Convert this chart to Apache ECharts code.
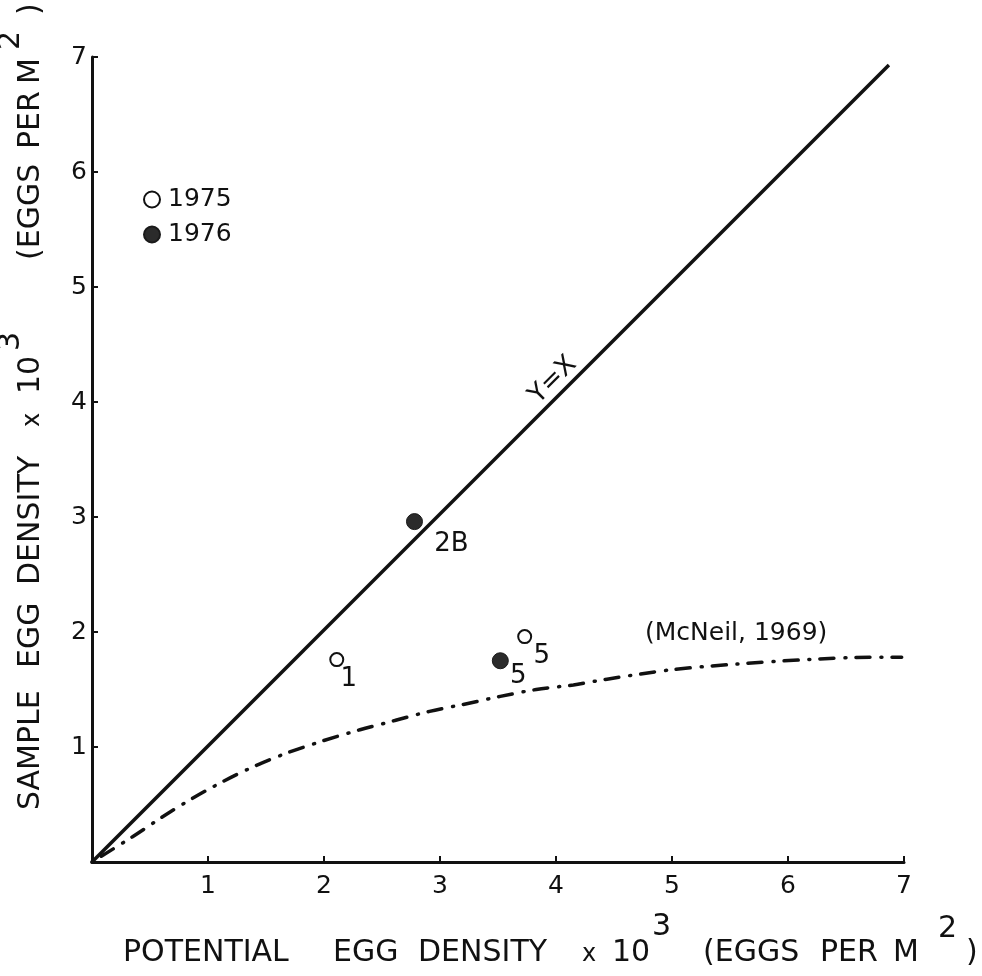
<!DOCTYPE html>
<html><head><meta charset="utf-8">
<script src="https://cdn.jsdelivr.net/npm/echarts@6/dist/echarts.min.js"></script>
<style>html,body{margin:0;padding:0;background:#fff}#c{width:982px;height:976px}</style>
</head><body><div id="c"></div>
<script>
// ---- data ----
const xTickValues = [0, 1, 2, 3, 4, 5, 6, 7];
const yTickValues = [0, 1, 2, 3, 4, 5, 6, 7];
const identityX = [0, 6.87];
const identityY = [0, 6.93];
const mcneilX = [0, 0.35, 0.68, 1.0, 1.33, 1.66, 1.98, 2.31, 2.61, 2.91, 3.2, 3.52, 3.83, 4.15, 4.44, 4.98, 5.54, 6.16, 6.71, 6.98];
const mcneilY = [0, 0.22, 0.44, 0.63, 0.80, 0.94, 1.05, 1.15, 1.23, 1.31, 1.37, 1.44, 1.50, 1.54, 1.59, 1.67, 1.72, 1.76, 1.78, 1.78];
const s1975X = [2.11, 3.73];
const s1975Y = [1.76, 1.96];
const s1975Labels = ['1', '5'];
const s1976X = [2.78, 3.52];
const s1976Y = [2.96, 1.75];
const s1976Labels = ['2B', '5'];
const seriesNames = ['1975', '1976'];
const lineLabel = 'Y=X';
const curveLabel = '(McNeil, 1969)';

// ---- styling (not data) ----
const FONT = 'DejaVu Sans';
const INK = '#111';
const off1975 = [[12, 20], [17, 20]];
const off1976 = [[37, 23], [18, 15]];

function pts(xs, ys) { return xs.map((x, i) => [x, ys[i]]); }

const chart = echarts.init(document.getElementById('c'), null, {renderer: 'canvas'});

const titleStyle = {fontFamily: FONT, fontSize: 30, fill: INK};
function t(text, x, y, size) {
  return {type: 'text', x: x, y: y,
    style: Object.assign({}, titleStyle, {text: text, verticalAlign: 'middle', align: 'left'}, size ? {fontSize: size} : {})};
}
// x-axis title pieces
const xTitleY = 953;
const xTitle = [
  t('POTENTIAL', 123, xTitleY), t('EGG', 333, xTitleY), t('DENSITY', 418, xTitleY),
  t('x', 582, xTitleY + 2, 24),
  t('10', 612, xTitleY), t('3', 652, xTitleY - 26),
  t('(EGGS', 703, xTitleY), t('PER', 820, xTitleY), t('M', 893, xTitleY),
  t('2', 938, xTitleY - 24), t(')', 966, xTitleY)
];
// y-axis title pieces (local coordinates along rotated baseline)
const yTitleChildren = [
  t('SAMPLE', 2, 0), t('EGG', 144, 0), t('DENSITY', 227, 0),
  t('x', 385, 2, 24),
  t('10', 418, 0), t('3', 461, -20),
  t('(EGGS', 552, 0), t('PER', 663, 0), t('M', 728, 0), t('2', 762, -20), t(')', 797, 0)
];

const option = {
  backgroundColor: '#fff',
  animation: false,
  grid: {left: 92, right: 78, top: 57, bottom: 114, containLabel: false},
  xAxis: {
    type: 'value', min: xTickValues[0], max: xTickValues[xTickValues.length - 1], interval: 1,
    axisLine: {show: true, onZero: false, lineStyle: {color: INK, width: 3}},
    axisTick: {show: true, inside: true, length: 6, lineStyle: {color: INK, width: 2}},
    axisLabel: {show: true, margin: 12, fontFamily: FONT, fontSize: 25, color: INK,
      formatter: v => (v === 0 ? '' : String(v))},
    splitLine: {show: false}
  },
  yAxis: {
    type: 'value', min: yTickValues[0], max: yTickValues[yTickValues.length - 1], interval: 1,
    axisLine: {show: true, onZero: false, lineStyle: {color: INK, width: 3}},
    axisTick: {show: true, inside: true, length: 6, lineStyle: {color: INK, width: 2}},
    axisLabel: {show: true, margin: 5, fontFamily: FONT, fontSize: 25, color: INK,
      formatter: v => (v === 0 ? '' : String(v))},
    splitLine: {show: false}
  },
  legend: {
    data: seriesNames, orient: 'vertical', left: 138, top: 182,
    itemWidth: 16, itemHeight: 16, itemGap: 10, icon: 'circle',
    textStyle: {fontFamily: FONT, fontSize: 25, color: INK, padding: [0, 0, 0, 3]}
  },
  series: [
    {
      name: 'identity', type: 'line', data: pts(identityX, identityY), symbol: 'none',
      lineStyle: {color: INK, width: 3.5}, silent: true, z: 2
    },
    {
      name: 'McNeil', type: 'line', data: pts(mcneilX, mcneilY), symbol: 'none', smooth: 0.3,
      lineStyle: {color: INK, width: 3.5, type: [1, 10, 14, 11], cap: 'round'}, silent: true, z: 2
    },
    {
      name: seriesNames[0], type: 'scatter', symbol: 'circle', symbolSize: 13,
      itemStyle: {color: '#fff', borderColor: INK, borderWidth: 2, opacity: 1},
      data: s1975X.map((x, i) => ({value: [x, s1975Y[i]], label: {formatter: s1975Labels[i], offset: off1975[i]}})),
      label: {show: true, position: 'inside', fontFamily: FONT, fontSize: 26, color: INK, align: 'center', verticalAlign: 'middle'},
      z: 5
    },
    {
      name: seriesNames[1], type: 'scatter', symbol: 'circle', symbolSize: 16,
      itemStyle: {color: '#2b2b2b', borderColor: '#1a1a1a', borderWidth: 1, opacity: 1},
      data: s1976X.map((x, i) => ({value: [x, s1976Y[i]], label: {formatter: s1976Labels[i], offset: off1976[i]}})),
      label: {show: true, position: 'inside', fontFamily: FONT, fontSize: 26, color: INK, align: 'center', verticalAlign: 'middle'},
      z: 5
    }
  ],
  graphic: [
    {type: 'group', children: xTitle},
    {type: 'group', x: 31, y: 812, rotation: Math.PI / 2, children: yTitleChildren},
    {type: 'text', x: 553, y: 380, rotation: Math.PI / 4,
      style: {text: lineLabel, fontFamily: FONT, fontSize: 26, fill: INK, align: 'center', verticalAlign: 'middle'}},
    {type: 'text', x: 645, y: 633,
      style: {text: curveLabel, fontFamily: FONT, fontSize: 25, fill: INK, align: 'left', verticalAlign: 'middle'}}
  ]
};
chart.setOption(option);
</script>
</body></html>
